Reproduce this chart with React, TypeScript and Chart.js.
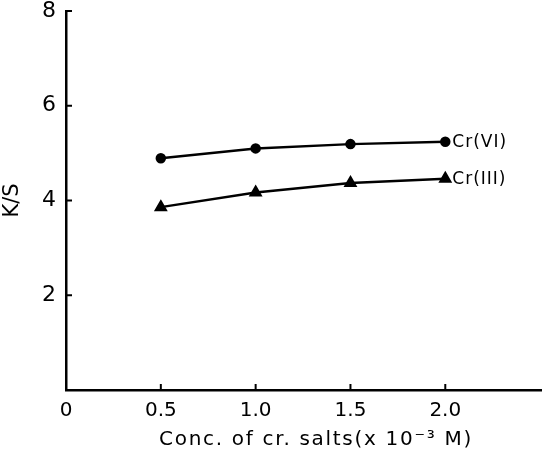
import React, { useEffect, useRef } from "react";
import { Chart, registerables } from "chart.js";

Chart.register(...registerables);

const concentrations = [0.5, 1.0, 1.5, 2.0];
const crVI = [4.89, 5.1, 5.19, 5.24];
const crIII = [3.86, 4.17, 4.37, 4.46];
const seriesLabels = ["Cr(VI)", "Cr(III)"];
const yTicks = [2, 4, 6, 8];
const xTicks = [0.5, 1.0, 1.5, 2.0];
const xTitle = "Conc. of cr. salts(x 10\u207B\u00B3 M)";
const yTitle = "K/S";

const FONT = "'DejaVu Sans', sans-serif";

const inwardTicks = {
  id: "inwardTicks",
  afterDraw(chart: any) {
    const ctx = chart.ctx;
    const xs = chart.scales.x;
    const ys = chart.scales.y;
    ctx.save();
    ctx.strokeStyle = "#000";
    ctx.lineWidth = 2;
    xTicks.forEach((v) => {
      const px = xs.getPixelForValue(v);
      ctx.beginPath();
      ctx.moveTo(px, ys.bottom);
      ctx.lineTo(px, ys.bottom - 6);
      ctx.stroke();
    });
    yTicks.forEach((v) => {
      const py = ys.getPixelForValue(v);
      ctx.beginPath();
      ctx.moveTo(xs.left, py);
      ctx.lineTo(xs.left + 6, py);
      ctx.stroke();
    });
    // x axis title with wider letter spacing
    ctx.fillStyle = "#000";
    ctx.font = `20px ${FONT}`;
    (ctx as any).letterSpacing = "1.7px";
    ctx.textAlign = "center";
    ctx.textBaseline = "middle";
    ctx.fillText(xTitle, 316, 440);
    ctx.restore();
  },
};

const seriesTags = {
  id: "seriesTags",
  afterDatasetsDraw(chart: any) {
    const ctx = chart.ctx;
    ctx.save();
    ctx.fillStyle = "#000";
    ctx.font = `17px ${FONT}`;
    (ctx as any).letterSpacing = "1px";
    ctx.textAlign = "left";
    ctx.textBaseline = "middle";
    chart.data.datasets.forEach((ds: any, i: number) => {
      const meta = chart.getDatasetMeta(i);
      const last = meta.data[meta.data.length - 1];
      ctx.fillText(seriesLabels[i], last.x + 7, last.y + 1);
    });
    ctx.restore();
  },
};

export default function App() {
  const ref = useRef<HTMLCanvasElement | null>(null);
  useEffect(() => {
    if (!ref.current) return;
    const chart = new Chart(ref.current, {
      type: "scatter",
      data: {
        datasets: [
          {
            label: seriesLabels[0],
            data: concentrations.map((x, i) => ({ x, y: crVI[i] })),
            showLine: true,
            borderColor: "#000",
            backgroundColor: "#000",
            borderWidth: 2.5,
            pointStyle: "circle",
            pointRadius: 4,
          },
          {
            label: seriesLabels[1],
            data: concentrations.map((x, i) => ({ x, y: crIII[i] })),
            showLine: true,
            borderColor: "#000",
            backgroundColor: "#000",
            borderWidth: 2.5,
            pointStyle: "triangle",
            pointRadius: 5.5,
          },
        ],
      },
      options: {
        animation: false,
        responsive: false,
        layout: { padding: { top: 11, right: 0, left: 0, bottom: 0 } },
        plugins: { legend: { display: false }, tooltip: { enabled: false } },
        scales: {
          x: {
            type: "linear",
            min: 0,
            max: 2.51,
            grid: { display: false, drawTicks: false },
            border: { display: true, color: "#000", width: 2.5 },
            ticks: {
              stepSize: 0.5,
              color: "#000",
              padding: 9,
              font: { family: FONT, size: 20 },
              callback: (v: any) => (v === 0 ? "0" : v >= 2.5 ? "" : Number(v).toFixed(1)),
            },
            title: { display: false, text: xTitle },
            afterFit: (s: any) => {
              s.height = 68;
              s.paddingRight = 0;
            },
          },
          y: {
            type: "linear",
            min: 0,
            max: 8,
            grid: { display: false, drawTicks: false },
            border: { display: true, color: "#000", width: 2.5 },
            ticks: {
              stepSize: 2,
              color: "#000",
              padding: 10,
              font: { family: FONT, size: 22 },
              callback: (v: any) => (v === 0 ? "" : String(v)),
            },
            title: {
              display: true,
              text: yTitle,
              color: "#000",
              font: { family: FONT, size: 21 },
              padding: { top: 0, bottom: 4 },
            },
            afterFit: (s: any) => {
              s.width = 66;
              s.paddingTop = 0;
              s.paddingBottom = 0;
            },
          },
        },
      },
      plugins: [inwardTicks, seriesTags],
    } as any);
    return () => chart.destroy();
  }, []);
  return (
    <div
      style={{
        position: "fixed",
        left: 0,
        top: 0,
        width: 542,
        height: 458,
        overflow: "hidden",
        background: "#fff",
      }}
    >
      <canvas ref={ref} width={550} height={458} style={{ width: 550, height: 458, display: "block" }} />
    </div>
  );
}
